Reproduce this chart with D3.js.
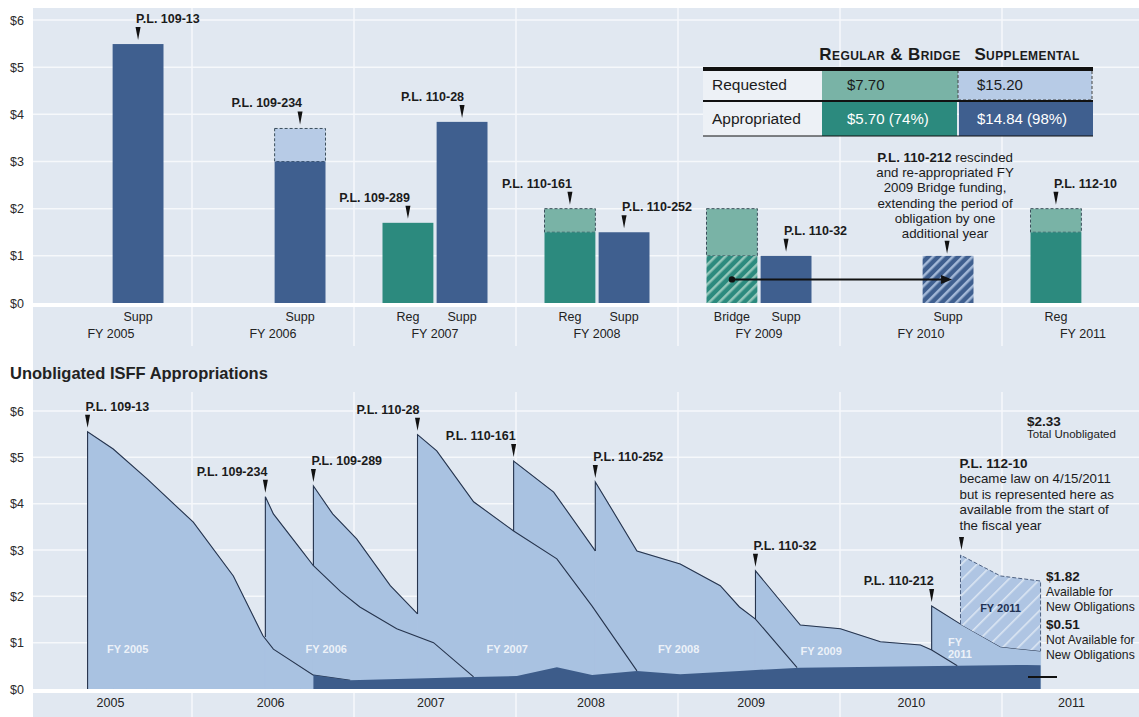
<!DOCTYPE html>
<html>
<head>
<meta charset="utf-8">
<script src="https://cdn.jsdelivr.net/npm/d3@7"></script>
<style>
  body { margin: 0; background: #fff; }
</style>
</head>
<body>
<svg id="chart"></svg>
<script>
// ---- top chart: ISFF appropriations by fiscal year ($ billions)
var fiscalYears = ["FY 2005", "FY 2006", "FY 2007", "FY 2008", "FY 2009", "FY 2010", "FY 2011"];
var barYear = ["FY 2005", "FY 2006", "FY 2007", "FY 2007", "FY 2008", "FY 2008", "FY 2009", "FY 2009", "FY 2010", "FY 2011"];
var barType = ["Supp", "Supp", "Reg", "Supp", "Reg", "Supp", "Bridge", "Supp", "Supp", "Reg"];
var appropriated = [5.49, 3.0, 1.7, 3.84, 1.5, 1.5, 1.0, 1.0, 1.0, 1.5];
var requested = [5.49, 3.7, 1.7, 3.84, 2.0, 1.5, 2.0, 1.0, 1.0, 2.0];
var barLaw = ["P.L. 109-13", "P.L. 109-234", "P.L. 109-289", "P.L. 110-28", "P.L. 110-161", "P.L. 110-252", "", "P.L. 110-32", "", "P.L. 112-10"];
var bridgeFunded = [false, false, false, false, false, false, true, false, true, false];

// summary table
var tableCols = ["Regular & Bridge", "Supplemental"];
var tableRows = ["Requested", "Appropriated"];
var regBridgeTotals = ["$7.70", "$5.70 (74%)"];
var suppTotals = ["$15.20", "$14.84 (98%)"];

var rescindNote = ["P.L. 110-212| rescinded", "and re-appropriated FY", "2009 Bridge funding,", "extending the period of", "obligation by one", "additional year"];

// ---- bottom chart: unobligated balance, [year, $ billions]
var yearTicks = [2005, 2006, 2007, 2008, 2009, 2010, 2011];
var pl109_13 = [[2004.86, 0], [2004.86, 5.55], [2005.02, 5.18], [2005.23, 4.54], [2005.52, 3.6], [2005.77, 2.44], [2005.955, 1.15], [2006.02, 0.86], [2006.27, 0.30], [2006.5, 0.19]];
var pl109_234 = [[2005.97, 1.12], [2005.97, 4.15], [2006.02, 3.78], [2006.19, 3.02], [2006.27, 2.66], [2006.44, 2.1], [2006.56, 1.77], [2006.79, 1.3], [2007.02, 1.0], [2007.27, 0.26]];
var pl109_289 = [[2006.27, 2.66], [2006.27, 4.38], [2006.39, 3.78], [2006.54, 3.24], [2006.75, 2.23], [2006.92, 1.62]];
var pl110_28 = [[2006.92, 1.62], [2006.92, 5.49], [2007.04, 5.14], [2007.27, 4.04], [2007.52, 3.41], [2007.79, 2.81], [2008.01, 1.79], [2008.29, 0.39]];
var pl110_161 = [[2007.52, 3.41], [2007.52, 4.92], [2007.77, 4.25], [2008.03, 2.98]];
var pl110_252 = [[2008.03, 2.98], [2008.03, 4.47], [2008.29, 2.98], [2008.56, 2.70], [2008.81, 2.23], [2008.93, 1.77], [2009.03, 1.51], [2009.29, 0.46]];
var pl110_32 = [[2009.03, 1.51], [2009.03, 2.55], [2009.31, 1.38], [2009.56, 1.30], [2009.81, 1.02], [2010.06, 0.95], [2010.13, 0.84], [2010.29, 0.50]];
var pl110_212 = [[2010.13, 0.84], [2010.13, 1.79], [2010.31, 1.40], [2010.56, 0.91], [2010.81, 0.82]];
// FY 2011 (P.L. 112-10): [year, low, high]
var pl112_10 = [[2010.31, 1.40, 2.89], [2010.56, 0.91, 2.44], [2010.81, 0.82, 2.33]];
var notAvailable = [[2006.27, 0.30], [2006.5, 0.19], [2007.27, 0.26], [2007.54, 0.28], [2007.79, 0.47], [2008.01, 0.30], [2008.29, 0.39], [2008.56, 0.32], [2008.93, 0.39], [2009.31, 0.46], [2010.29, 0.50], [2010.72, 0.52], [2010.81, 0.51]];
var spikeLaw = ["P.L. 109-13", "P.L. 109-234", "P.L. 109-289", "P.L. 110-28", "P.L. 110-161", "P.L. 110-252", "P.L. 110-32", "P.L. 110-212"];
var areaLabels = ["FY 2005", "FY 2006", "FY 2007", "FY 2008", "FY 2009"];
var pl112Note = ["became law on 4/15/2011", "but is represented here as", "available from the start of", "the fiscal year"];
var totalUnobligated = "$2.33", availableNew = "$1.82", notAvailableNew = "$0.51";

var W = 1139, H = 717;
var FONT = '"Liberation Sans", Arial, sans-serif';
var C = {
  panel: "#e1e8f1", grid: "#f6f8fb", blue: "#3f5f8f", lightBlue: "#b7cbe6",
  teal: "#2c8a7e", lightTeal: "#79b3a6", area: "#a9c2e1", line: "#26344d",
  dark: "#3d5c8a", ink: "#1b1b1b"
};

var svg = d3.select("#chart").attr("width", W).attr("height", H)
  .attr("font-family", FONT);

var defs = svg.append("defs");
function hatch(id, size, base, stripe, sw) {
  var p = defs.append("pattern").attr("id", id).attr("patternUnits", "userSpaceOnUse")
    .attr("width", size).attr("height", size).attr("patternTransform", "rotate(45)");
  p.append("rect").attr("width", size).attr("height", size).attr("fill", base);
  p.append("rect").attr("width", sw).attr("height", size).attr("fill", stripe);
}
hatch("hatchTeal", 7, C.teal, "#93c6b9", 2.5);
hatch("hatchBlue", 7, C.blue, "#a3b8d7", 2.5);
hatch("hatchLight", 11, "#afc5e3", "#dce6f3", 1.6);

svg.append("rect").attr("x", 33).attr("y", 8).attr("width", W - 33).attr("height", H - 8).attr("fill", C.panel);

function pointer(g, x, yTip) {
  g.append("path")
    .attr("d", "M" + (x - 2.5) + "," + (yTip - 13) + "L" + (x + 2.5) + "," + (yTip - 13) + "L" + x + "," + yTip + "Z")
    .attr("fill", "#111");
}
function lawLabel(g, txt, x, top, side) {
  g.append("text").attr("x", side === "start" ? x - 2 : x + 2).attr("y", top - 21)
    .attr("text-anchor", side).attr("font-weight", "bold").attr("font-size", 12.5)
    .attr("fill", C.ink).text(txt);
  pointer(g, x, top - 4);
}

// ================= top chart
var yTop = d3.scaleLinear().domain([0, 6]).range([303, 20]);
var xFY = d3.scaleBand().domain(fiscalYears).range([30, 1164]);
var xSlot = d3.scaleBand().domain(["Reg", "Supp"]).range([28.5, 133.5]).paddingInner(0.06);
function slotOf(t) { return t === "Supp" ? "Supp" : "Reg"; }
function barX(i) { return xFY(barYear[i]) + xSlot(slotOf(barType[i])); }
var bw = xSlot.bandwidth();

var gTop = svg.append("g");
yTop.ticks(6).filter(function(v) { return v > 0; }).forEach(function(v) {
  gTop.append("line").attr("x1", 33).attr("x2", W).attr("y1", yTop(v)).attr("y2", yTop(v))
    .attr("stroke", C.grid).attr("stroke-width", 1.5);
});
fiscalYears.slice(1).forEach(function(fy) {
  gTop.append("line").attr("x1", xFY(fy)).attr("x2", xFY(fy)).attr("y1", 8).attr("y2", 346)
    .attr("stroke", C.grid).attr("stroke-width", 1.5);
});

barYear.forEach(function(fy, i) {
  var x = barX(i), supp = barType[i] === "Supp";
  if (requested[i] > appropriated[i]) {
    gTop.append("rect").attr("x", x).attr("y", yTop(requested[i])).attr("width", bw)
      .attr("height", yTop(appropriated[i]) - yTop(requested[i]))
      .attr("fill", supp ? C.lightBlue : C.lightTeal)
      .attr("stroke", "#3c4f5c").attr("stroke-width", 1).attr("stroke-dasharray", "3,2");
  }
  var fill = bridgeFunded[i] ? (supp ? "url(#hatchBlue)" : "url(#hatchTeal)") : (supp ? C.blue : C.teal);
  gTop.append("rect").attr("x", x).attr("y", yTop(appropriated[i])).attr("width", bw)
    .attr("height", yTop(0) - yTop(appropriated[i])).attr("fill", fill);
});
gTop.append("line").attr("x1", 33).attr("x2", W).attr("y1", yTop(0) + 2).attr("y2", yTop(0) + 2)
  .attr("stroke", "#fff").attr("stroke-width", 4);

// arrow: FY 2009 bridge funding moved to FY 2010
var iFrom = barType.indexOf("Bridge"), iTo = barYear.indexOf("FY 2010");
var ay = yTop(appropriated[iFrom] / 2);
var ax1 = barX(iFrom) + bw / 2, ax2 = barX(iTo) + bw / 2 + 4;
gTop.append("line").attr("x1", ax1).attr("x2", ax2 - 9).attr("y1", ay).attr("y2", ay)
  .attr("stroke", "#111").attr("stroke-width", 2);
gTop.append("circle").attr("cx", ax1).attr("cy", ay).attr("r", 3.2).attr("fill", "#111");
gTop.append("path").attr("d", "M" + ax2 + "," + ay + "L" + (ax2 - 11) + "," + (ay - 4.5) + "L" + (ax2 - 11) + "," + (ay + 4.5) + "Z")
  .attr("fill", "#111");

var topSide = ["start", "end", "end", "end", "end", "start", "", "start", "", "start"];
barLaw.forEach(function(law, i) {
  if (!law) return;
  lawLabel(gTop, law, barX(i) + bw / 2, yTop(requested[i]), topSide[i]);
});

// rescission note above FY 2010
var nx = barX(iTo) + bw / 2 - 3;
rescindNote.forEach(function(l, k) {
  var t = gTop.append("text").attr("x", nx).attr("y", 162 + k * 15.2).attr("text-anchor", "middle")
    .attr("font-size", 13.3).attr("fill", C.ink);
  var parts = l.split("|");
  if (parts.length > 1) {
    t.append("tspan").attr("font-weight", "bold").text(parts[0]);
    t.append("tspan").text(parts[1]);
  } else t.text(l);
});
pointer(gTop, nx + 2, yTop(appropriated[iTo]) - 2);

// category labels
barType.forEach(function(t, i) {
  gTop.append("text").attr("x", barX(i) + bw / 2).attr("y", 320.5).attr("text-anchor", "middle")
    .attr("font-size", 12.5).attr("fill", "#222").text(t);
});
svg.append("g").attr("transform", "translate(0,329)")
  .call(d3.axisBottom(xFY).tickSize(0).tickPadding(0))
  .call(function(g) { g.select(".domain").remove(); })
  .attr("font-family", FONT).attr("font-size", 12.5).attr("color", "#222");

svg.append("g").attr("transform", "translate(24,0)")
  .call(d3.axisLeft(yTop).ticks(6).tickSize(0).tickPadding(0).tickFormat(function(d) { return "$" + d; }))
  .call(function(g) { g.select(".domain").remove(); })
  .attr("font-family", FONT).attr("font-size", 12.5).attr("color", "#2a2a2a");

// summary table
var gT = svg.append("g");
var tx = [703, 822, 958, 1093], ty = [69, 101, 136];
gT.append("rect").attr("x", tx[0]).attr("y", ty[0]).attr("width", tx[1] - tx[0]).attr("height", ty[2] - ty[0]).attr("fill", "#edf1f6");
gT.append("rect").attr("x", tx[1]).attr("y", ty[0]).attr("width", tx[2] - tx[1]).attr("height", ty[1] - ty[0]).attr("fill", C.lightTeal);
gT.append("rect").attr("x", tx[2]).attr("y", ty[0] + 1).attr("width", tx[3] - tx[2] - 1).attr("height", ty[1] - ty[0] - 2)
  .attr("fill", C.lightBlue).attr("stroke", "#444").attr("stroke-dasharray", "3,2").attr("stroke-width", 1);
gT.append("rect").attr("x", tx[1]).attr("y", ty[1]).attr("width", tx[2] - tx[1] - 1).attr("height", ty[2] - ty[1]).attr("fill", C.teal);
gT.append("rect").attr("x", tx[2] + 1).attr("y", ty[1]).attr("width", tx[3] - tx[2] - 1).attr("height", ty[2] - ty[1]).attr("fill", C.blue);
gT.append("line").attr("x1", tx[0]).attr("x2", tx[3]).attr("y1", ty[0]).attr("y2", ty[0]).attr("stroke", "#111").attr("stroke-width", 4);
gT.append("line").attr("x1", tx[0]).attr("x2", tx[3]).attr("y1", ty[1]).attr("y2", ty[1]).attr("stroke", "#111").attr("stroke-width", 2);
gT.append("line").attr("x1", tx[0]).attr("x2", tx[3]).attr("y1", ty[2]).attr("y2", ty[2]).attr("stroke", "#111").attr("stroke-width", 1.2);
tableCols.forEach(function(c, k) {
  gT.append("text").attr("x", k === 0 ? 890 : 1027).attr("y", 60).attr("text-anchor", "middle")
    .attr("font-size", 17).attr("font-weight", "bold").attr("letter-spacing", 0.4)
    .style("font-variant", "small-caps").attr("fill", C.ink).text(c);
});
tableRows.forEach(function(r, k) {
  var by = k === 0 ? 90 : 124;
  gT.append("text").attr("x", 712).attr("y", by).attr("font-size", 15.5).attr("fill", C.ink).text(r);
  gT.append("text").attr("x", 847).attr("y", by).attr("font-size", 15).attr("fill", k === 0 ? C.ink : "#fff").text(regBridgeTotals[k]);
  gT.append("text").attr("x", 977).attr("y", by).attr("font-size", 15).attr("fill", k === 0 ? C.ink : "#fff").text(suppTotals[k]);
});

// ================= bottom chart
svg.append("text").attr("x", 10).attr("y", 379).attr("font-size", 16.5).attr("font-weight", "bold")
  .attr("fill", "#222").text("Unobligated ISFF Appropriations");

var xB = d3.scaleLinear().domain([2005, 2011]).range([110, 1071]);
var yB = d3.scaleLinear().domain([0, 6]).range([689, 411]);
var gB = svg.append("g");
yB.ticks(6).filter(function(v) { return v > 0; }).forEach(function(v) {
  gB.append("line").attr("x1", 33).attr("x2", W).attr("y1", yB(v)).attr("y2", yB(v))
    .attr("stroke", C.grid).attr("stroke-width", 1.5);
});
fiscalYears.slice(1).forEach(function(fy) {
  gB.append("line").attr("x1", xFY(fy)).attr("x2", xFY(fy)).attr("y1", 392).attr("y2", H)
    .attr("stroke", C.grid).attr("stroke-width", 1.5);
});

var curves = [pl109_13, pl109_234, pl109_289, pl110_28, pl110_161, pl110_252, pl110_32, pl110_212];
var area = d3.area().x(function(d) { return xB(d[0]); }).y0(yB(0)).y1(function(d) { return yB(d[1]); });
var line = d3.line().x(function(d) { return xB(d[0]); }).y(function(d) { return yB(d[1]); });
// fills get a thin stroke of the same colour so neighbouring pieces show no seam
curves.forEach(function(c) {
  gB.append("path").attr("d", area(c)).attr("fill", C.area).attr("stroke", C.area).attr("stroke-width", 0.8);
});
curves.forEach(function(c) {
  gB.append("path").attr("d", line(c)).attr("fill", "none").attr("stroke", C.line).attr("stroke-width", 1.1);
});
gB.append("path").attr("d", area(notAvailable)).attr("fill", C.dark);

// FY 2011 hatched block
var band = d3.area().x(function(d) { return xB(d[0]); }).y0(function(d) { return yB(d[1]); }).y1(function(d) { return yB(d[2]); });
gB.append("path").attr("d", band(pl112_10)).attr("fill", "url(#hatchLight)");
var edge = [[pl112_10[0][0], pl112_10[0][1]]].concat(pl112_10.map(function(d) { return [d[0], d[2]]; }))
  .concat([[pl112_10[pl112_10.length - 1][0], pl112_10[pl112_10.length - 1][1]]]);
gB.append("path").attr("d", line(edge)).attr("fill", "none").attr("stroke", "#4d6182")
  .attr("stroke-width", 1).attr("stroke-dasharray", "4,2");

gB.append("line").attr("x1", 33).attr("x2", W).attr("y1", yB(0) + 2).attr("y2", yB(0) + 2)
  .attr("stroke", "#fff").attr("stroke-width", 4);

var bottomSide = ["start", "end", "start", "end", "end", "start", "start", "end"];
curves.forEach(function(c, i) {
  lawLabel(gB, spikeLaw[i], xB(c[1][0]), yB(c[1][1]), bottomSide[i]);
});

// white FY labels inside areas (year, $)
var areaLabelPos = [[2005.11, 0.78], [2006.35, 0.78], [2007.48, 0.78], [2008.55, 0.78], [2009.44, 0.74]];
areaLabels.forEach(function(l, k) {
  gB.append("text").attr("x", xB(areaLabelPos[k][0])).attr("y", yB(areaLabelPos[k][1])).attr("text-anchor", "middle")
    .attr("font-size", 11).attr("font-weight", "bold").attr("fill", "#fff").attr("fill-opacity", 0.8).text(l);
});
["FY", "2011"].forEach(function(l, k) {
  gB.append("text").attr("x", 948).attr("y", 646 + k * 12).attr("font-size", 11).attr("font-weight", "bold")
    .attr("fill", "#fff").attr("fill-opacity", 0.8).text(l);
});
gB.append("text").attr("x", xB(2010.56)).attr("y", 612).attr("text-anchor", "middle")
  .attr("font-size", 11).attr("font-weight", "bold").attr("fill", "#1f3152").text("FY 2011");

// P.L. 112-10 note
var px = xB(pl112_10[0][0]);
gB.append("text").attr("x", px - 1).attr("y", 468).attr("font-size", 13.5).attr("font-weight", "bold").attr("fill", C.ink).text("P.L. 112-10");
pl112Note.forEach(function(l, k) {
  gB.append("text").attr("x", px - 1).attr("y", 483 + k * 15.6).attr("font-size", 13.3).attr("fill", C.ink).text(l);
});
pointer(gB, px + 1, yB(pl112_10[0][2]) - 5);

// totals at right
gB.append("text").attr("x", 1027).attr("y", 426).attr("font-size", 13.5).attr("font-weight", "bold").attr("fill", C.ink).text(totalUnobligated);
gB.append("text").attr("x", 1027).attr("y", 438).attr("font-size", 11.5).attr("fill", C.ink).text("Total Unobligated");
[[availableNew, "Available for", "New Obligations", 581], [notAvailableNew, "Not Available for", "New Obligations", 629]].forEach(function(r) {
  gB.append("text").attr("x", 1046).attr("y", r[3]).attr("font-size", 13.5).attr("font-weight", "bold").attr("fill", C.ink).text(r[0]);
  gB.append("text").attr("x", 1046).attr("y", r[3] + 15).attr("font-size", 12.2).attr("fill", C.ink).text(r[1]);
  gB.append("text").attr("x", 1046).attr("y", r[3] + 30).attr("font-size", 12.2).attr("fill", C.ink).text(r[2]);
});
gB.append("line").attr("x1", 1028).attr("x2", 1057).attr("y1", 677).attr("y2", 677).attr("stroke", "#111").attr("stroke-width", 2);

svg.append("g").attr("transform", "translate(24,0)")
  .call(d3.axisLeft(yB).ticks(6).tickSize(0).tickPadding(0).tickFormat(function(d) { return "$" + d; }))
  .call(function(g) { g.select(".domain").remove(); })
  .attr("font-family", FONT).attr("font-size", 12.5).attr("color", "#2a2a2a");
svg.append("g").attr("transform", "translate(0,698)")
  .call(d3.axisBottom(xB).tickValues(yearTicks).tickFormat(d3.format("d")).tickSize(0).tickPadding(0))
  .call(function(g) { g.select(".domain").remove(); })
  .attr("font-family", FONT).attr("font-size", 12.5).attr("color", "#222");
</script>
</body>
</html>
